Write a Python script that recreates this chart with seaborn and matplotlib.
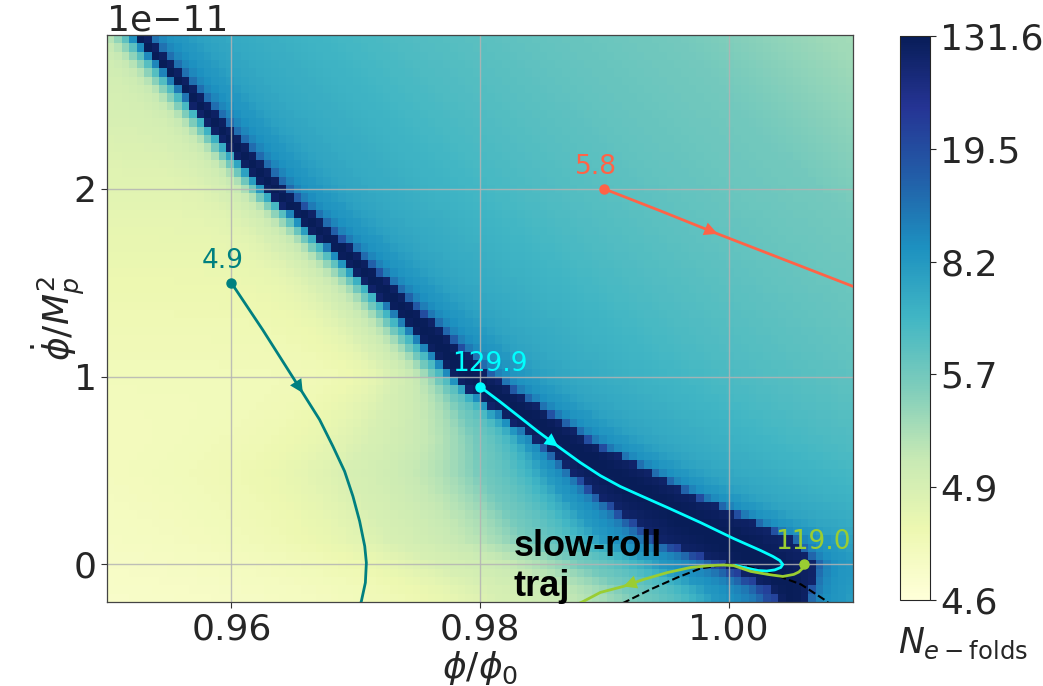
import numpy as np
import matplotlib
matplotlib.use("Agg")
import matplotlib.pyplot as plt
import matplotlib.colors as mcolors
import matplotlib.ticker as mticker
import seaborn as sns

E11 = 1e-11

# N_e-folds levels marked on the colour bar (equally spaced along the bar)
n_levels = [4.6, 4.9, 5.7, 8.2, 19.5, 131.6]

# grid of initial conditions (phi/phi0, phidot/Mp^2 in units of 1e-11)
phi_edges = np.linspace(0.95, 1.01, 101)
phidot_edges = np.linspace(-0.2, 2.82, 69)

# ridge of long inflation: borders of the dark band versus phidot
ridge_phidot = [-0.2, -0.13, 0.0, 0.13, 0.40, 0.66, 1.0, 1.5, 2.0, 2.82]
ridge_left = [1.0042, 1.0032, 0.9996, 0.9943, 0.9889, 0.9846, 0.9777, 0.9708, 0.9626, 0.9520]
ridge_right = [1.0062, 1.0066, 1.0070, 1.0052, 0.9962, 0.9888, 0.9810, 0.9727, 0.9643, 0.9531]

# fall-off of N on the low-phi side of the ridge
falloff_phidot = [-0.2, 0.0, 0.5, 1.0, 2.0, 2.82]
falloff_len = [0.014, 0.0136, 0.0108, 0.003, 0.00142, 0.0013]
falloff_amp = [1.95, 1.94, 1.5, 1.0, 0.93, 0.8]

# trajectories (phi/phi0, phidot in 1e-11) and their starting N_e-folds
teal_phi = [0.9600, 0.96252, 0.96414, 0.96575, 0.96710, 0.96817, 0.96911, 0.96978,
            0.97032, 0.97073, 0.97086, 0.97078, 0.97046, 0.97020]
teal_phidot = [1.500, 1.250, 1.081, 0.913, 0.771, 0.629, 0.496, 0.363,
               0.230, 0.097, 0.009, -0.097, -0.195, -0.25]
teal_n = 4.9

cyan_phi = [0.98000, 0.98161, 0.98315, 0.98468, 0.98629, 0.98806, 0.98968, 0.99129,
            0.99290, 0.99508, 0.99774, 1.00040, 1.00258, 1.00355, 1.00411, 1.00435,
            1.00419, 1.00371, 1.00306, 1.00234, 1.00145, 1.00056]
cyan_phidot = [0.947, 0.867, 0.787, 0.707, 0.628, 0.543, 0.473, 0.415,
               0.367, 0.303, 0.223, 0.138, 0.074, 0.043, 0.021, 0.0,
               -0.016, -0.029, -0.035, -0.032, -0.019, -0.005]
cyan_n = 129.9

tomato_phi = [0.9900, 0.99452, 0.99911, 1.01008, 1.0123]
tomato_phidot = [2.0, 1.883, 1.761, 1.479, 1.425]
tomato_n = 5.8

green_phi = [1.00605, 1.00595, 1.00565, 1.00524, 1.00435, 1.00315, 1.00177, 1.00040,
             0.99960, 0.99855, 0.99694, 0.99508, 0.99315, 0.99153, 0.98968, 0.98831,
             0.98726]
green_phidot = [0.0, -0.020, -0.040, -0.053, -0.064, -0.053, -0.037, -0.006,
                -0.003, -0.006, -0.016, -0.043, -0.080, -0.117, -0.149, -0.197,
                -0.229]
green_n = 119.0

slowroll_phi = [0.99145, 0.99210, 0.99371, 0.99589, 0.99774, 0.99980, 1.00153,
                1.00363, 1.00581, 1.00766, 1.00806]
slowroll_phidot = [-0.207, -0.186, -0.133, -0.069, -0.021, 0.0, -0.011,
                   -0.053, -0.106, -0.186, -0.207]

# ---------------------------------------------------------------- field
pc = 0.5 * (phi_edges[:-1] + phi_edges[1:])
dc = 0.5 * (phidot_edges[:-1] + phidot_edges[1:])
P, D = np.meshgrid(pc, dc)
left = np.interp(D, ridge_phidot, ridge_left)
right = np.interp(D, ridge_phidot, ridge_right)
lam = np.interp(D, falloff_phidot, falloff_len)
amp = np.interp(D, falloff_phidot, falloff_amp)
dl = np.clip(left - P, 0, None)
dr = np.clip(P - right, 0, None)
low = -0.76 + 0.15 * D + amp * np.exp(-dl / lam) + 0.5 * np.exp(-dl / 0.0006)
high = 0.55 - 11.0 * dr + 0.65 * np.exp(-dr / 0.0012)
t = (P - 0.5 * (left + right)) / (0.5 * (right - left))
core = 2.104 - 0.08 * t ** 2
logE = np.where(P < left, low, np.where(P > right, high, core))
N = np.clip(4.5 + 10 ** logE, n_levels[0], n_levels[-1])

# ---------------------------------------------------------------- style
sns.set_theme(style="ticks")
plt.rcParams["font.family"] = ["DejaVu Sans"]
plt.rcParams["mathtext.fontset"] = "dejavusans"

u_levels = np.linspace(0, 1, len(n_levels))
norm = mcolors.FuncNorm(
    (lambda x: np.interp(x, n_levels, u_levels),
     lambda u: np.interp(u, u_levels, n_levels)),
    vmin=n_levels[0], vmax=n_levels[-1])

fig = plt.figure(figsize=(10.43, 6.86), dpi=100)
ax = fig.add_axes([0.10259, 0.12245, 0.71525, 0.82653])
cax = fig.add_axes([0.8629, 0.12536, 0.0288, 0.82216])

mesh = ax.pcolormesh(phi_edges, np.asarray(phidot_edges) * E11, N,
                     cmap="YlGnBu", norm=norm, shading="flat", zorder=1)

ax.set_axisbelow("line")
ax.grid(True, color="#b4b4b4", lw=1.0, alpha=0.85)


def trajectory(xs, ys, color, n_start, arrow_idx, dx):
    xs = np.asarray(xs)
    ys = np.asarray(ys) * E11
    sns.lineplot(x=xs, y=ys, sort=False, estimator=None, color=color,
                 lw=2.0, ax=ax, zorder=3)
    ax.plot(xs[0], ys[0], "o", ms=6.5, color=color, zorder=4)
    ax.annotate(f"{n_start:.1f}", (xs[0], ys[0]), xytext=(dx, 11),
                textcoords="offset points", ha="center", va="baseline",
                color=color, fontsize=19, zorder=5)
    ax.annotate("", xy=(xs[arrow_idx], ys[arrow_idx]),
                xytext=(xs[arrow_idx - 1], ys[arrow_idx - 1]),
                arrowprops=dict(arrowstyle="-|>", color=color, lw=0,
                                mutation_scale=24, shrinkA=0, shrinkB=0),
                zorder=4)


sns.lineplot(x=np.asarray(slowroll_phi), y=np.asarray(slowroll_phidot) * E11,
             sort=False, estimator=None, color="black", lw=1.5,
             linestyle="--", ax=ax, zorder=3)

trajectory(teal_phi, teal_phidot, "teal", teal_n, 3, -6.5)
trajectory(tomato_phi, tomato_phidot, "tomato", tomato_n, 2, -6.0)
trajectory(cyan_phi, cyan_phidot, "cyan", cyan_n, 4, 7.0)
trajectory(green_phi, green_phidot, "yellowgreen", green_n, 13, 6.5)

# two-line annotation; with va="baseline" the last line sits on the given y
ax.text(0.9827, -0.17 * E11, "slow-roll\ntraj", family=["Liberation Sans", "DejaVu Sans"],
        fontweight="bold", fontsize=26, color="black", ha="left", va="baseline",
        linespacing=1.2, zorder=6)

ax.set_xlim(0.95, 1.01)
ax.set_ylim(-0.2 * E11, 2.82 * E11)
ax.set_xticks([0.96, 0.98, 1.00])
ax.set_yticks(np.array([0, 1, 2]) * E11)
ax.xaxis.set_major_formatter(mticker.FormatStrFormatter("%.2f"))
ax.tick_params(labelsize=26, length=4, width=0.8, color="#333333")
ax.yaxis.get_offset_text().set_fontsize(26)
ax.set_xlabel(r"$\phi/\phi_0$", fontsize=26, labelpad=2)
ax.set_ylabel(r"$\dot{\phi}/M_p^2$", fontsize=26, labelpad=-10)
for sp in ax.spines.values():
    sp.set_color("#444444")
    sp.set_linewidth(0.9)

cbar = fig.colorbar(mesh, cax=cax, ticks=n_levels)
cbar.ax.set_yticklabels([f"{v:.1f}" for v in n_levels])
cbar.ax.tick_params(labelsize=26, length=4, width=0.8)
cbar.outline.set_linewidth(0.8)
cbar.ax.text(2.1, -0.045, r"$N_{e-\mathrm{folds}}$", transform=cbar.ax.transAxes,
             fontsize=25, ha="center", va="top")

fig.savefig("out.png", dpi=100)
